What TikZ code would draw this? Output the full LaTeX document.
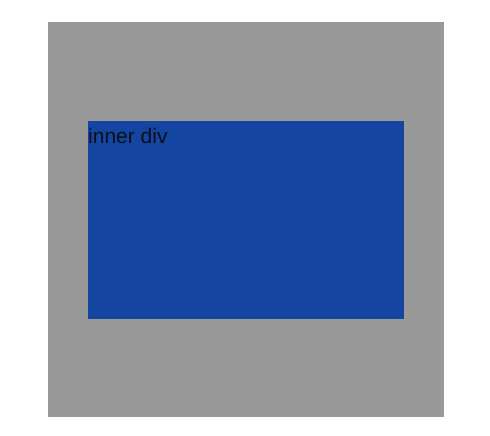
\documentclass[tikz,border=0pt]{standalone}
\usepackage{fontspec}
\setmainfont{Liberation Sans}
\definecolor{outergray}{HTML}{999999}
\definecolor{innerblue}{HTML}{1445A0}
\definecolor{txt}{HTML}{0A0F1E}
\tikzset{
  outerbox/.style={fill=outergray, draw=none},
  innerbox/.style={fill=innerblue, draw=none},
  label/.style={inner sep=0pt, text=txt, font=\fontsize{21}{25}\selectfont}
}
\begin{document}
\begin{tikzpicture}[x=1pt,y=-1pt]
\useasboundingbox[fill=white] (0,0) rectangle (490,436);
\path[outerbox] (48,22) rectangle (444,417);
\path[innerbox] (88,121) rectangle (404,319);
\node[label, anchor=base west] (t) at (88,143) {inner div};
\end{tikzpicture}
\end{document}
